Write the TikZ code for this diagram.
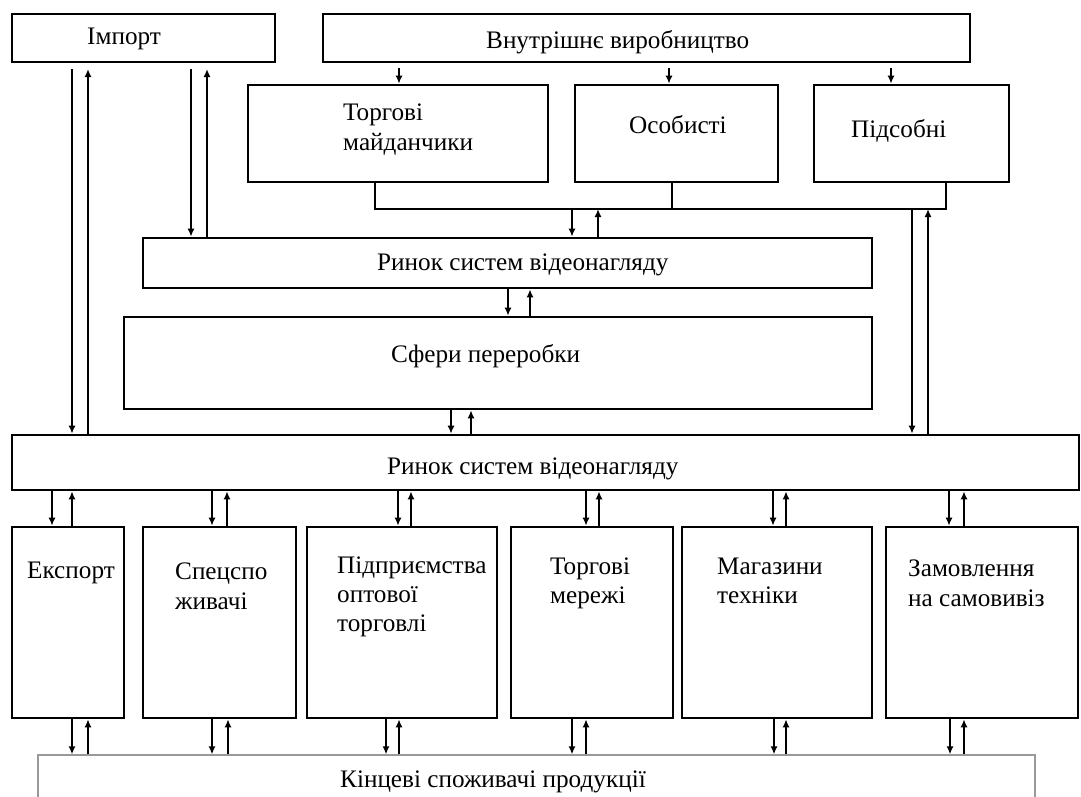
\documentclass[tikz,border=0pt]{standalone}
\usepackage{fontspec}
\setmainfont{Liberation Serif}
\usetikzlibrary{arrows.meta}
\newcommand\mybox[6][]{\node[box,#1,minimum width={#5-#3},minimum height={#6-#4}] (#2) at ({(#3+#5)/2},{(#4+#6)/2}) {};}
\begin{document}
\begin{tikzpicture}[x=1pt,y=-1pt,
  box/.style={draw,line width=2.6pt,inner sep=0pt,fill=white},
  thinbox/.style={draw=gray!80,line width=1.2pt,inner sep=0pt},
  lbl/.style={anchor=base west,inner sep=0pt,font=\fontsize{25.2}{30}\selectfont},
  conn/.style={line width=1.7pt},
  arr/.style={line width=1.7pt,-{Latex[length=8pt,width=7pt]}}]
\useasboundingbox (0,0) rectangle (1081,796);
\clip (0,0) rectangle (1081,796);
% boxes
\mybox{imp}{12}{14}{275}{62}
\mybox{vn}{323}{14}{970}{62}
\mybox{tm}{248}{85}{548}{182}
\mybox{os}{575}{85}{778}{182}
\mybox{pd}{814}{85}{1009}{182}
\mybox{ra}{143}{238}{872}{288}
\mybox{sf}{124}{317}{872}{409}
\mybox{rb}{12}{435}{1079}{490}
\mybox{ex}{12}{527}{124}{718}
\mybox{sp}{143}{527}{296}{718}
\mybox{pp}{307}{527}{497}{718}
\mybox{tmz}{511}{527}{673}{718}
\mybox{mg}{682}{527}{872}{718}
\mybox{zm}{886}{527}{1078}{718}
\mybox[thinbox]{kc}{38}{755}{1035}{830}
% labels
\node[lbl] (t1) at (87,44) {Імпорт};
\node[lbl] (t2) at (486,48) {Внутрішнє виробництво};
\node[lbl] (t3) at (343,120) {Торгові};
\node[lbl] (t3b) at (343,150) {майданчики};
\node[lbl] (t4) at (629,133) {Особисті};
\node[lbl] (t5) at (851,137) {Підсобні};
\node[lbl] (t6) at (377,270) {Ринок систем відеонагляду};
\node[lbl] (t7) at (391,362) {Сфери переробки};
\node[lbl] (t8) at (387,474) {Ринок систем відеонагляду};
\node[lbl] (t9) at (27,578) {Експорт};
\node[lbl] (t10) at (175,579) {Спецспо};
\node[lbl] (t10b) at (175,609) {живачі};
\node[lbl] (t11) at (337,573) {Підприємства};
\node[lbl] (t11b) at (337,602) {оптової};
\node[lbl] (t11c) at (337,631) {торговлі};
\node[lbl] (t12) at (550,574) {Торгові};
\node[lbl] (t12b) at (550,603) {мережі};
\node[lbl] (t13) at (717,574) {Магазини};
\node[lbl] (t13b) at (717,603) {техніки};
\node[lbl] (t14) at (908,576) {Замовлення};
\node[lbl] (t14b) at (908,606) {на самовивіз};
\node[lbl] (t15) at (340,787) {Кінцеві споживачі продукції};
% connectors from domestic production
\coordinate (v1) at (399,68);
\coordinate (v2) at (669,68);
\coordinate (v3) at (891,68);
\draw[arr] (v1) -- (v1 |- tm.north);
\draw[arr] (v2) -- (v2 |- os.north);
\draw[arr] (v3) -- (v3 |- pd.north);
% collecting line
\coordinate (jl) at (375,209);
\coordinate (jm) at (672,209);
\coordinate (jr) at (946,209);
\draw[conn] (jl |- tm.south) -- (jl) -- (jr) -- (jr |- pd.south);
\draw[conn] (jm |- os.south) -- (jm);
\coordinate (a1) at (572,209);
\coordinate (a2) at (598,209);
\draw[arr] (a1) -- (a1 |- ra.north);
\draw[arr] (a2 |- ra.north) -- (a2);
% import connectors
\coordinate (i1) at (72,69);
\coordinate (i2) at (88,69);
\coordinate (i3) at (191,69);
\coordinate (i4) at (207,69);
\draw[arr] (i1) -- (i1 |- rb.north);
\draw[arr] (i2 |- rb.north) -- (i2);
\draw[arr] (i3) -- (i3 |- ra.north);
\draw[arr] (i4 |- ra.north) -- (i4);
% right connectors
\coordinate (r1) at (912,209);
\coordinate (r2) at (928,209);
\draw[arr] (r1) -- (r1 |- rb.north);
\draw[arr] (r2 |- rb.north) -- (r2);
% market -> processing -> market
\coordinate (m1) at (508,0);
\coordinate (m2) at (530,0);
\draw[arr] (m1 |- ra.south) -- (m1 |- sf.north);
\draw[arr] (m2 |- sf.north) -- (m2 |- ra.south);
\coordinate (m3) at (451,0);
\coordinate (m4) at (471,0);
\draw[arr] (m3 |- sf.south) -- (m3 |- rb.north);
\draw[arr] (m4 |- rb.north) -- (m4 |- sf.south);
% market -> channels
\foreach \n/\d/\u in {ex/52/72, sp/212/227, pp/398/411, tmz/586/599, mg/773/786, zm/949/964}{
  \draw[arr] (\d,0 |- rb.south) -- (\d,0 |- \n.north);
  \draw[arr] (\u,0 |- \n.north) -- (\u,0 |- rb.south);
}
% channels -> final consumers
\foreach \n/\d/\u in {ex/72/88, sp/212/228, pp/386/399, tmz/572/586, mg/774/786, zm/950/964}{
  \draw[arr] (\d,0 |- \n.south) -- (\d,0 |- kc.north);
  \draw[arr] (\u,0 |- kc.north) -- (\u,0 |- \n.south);
}
\end{tikzpicture}
\end{document}
